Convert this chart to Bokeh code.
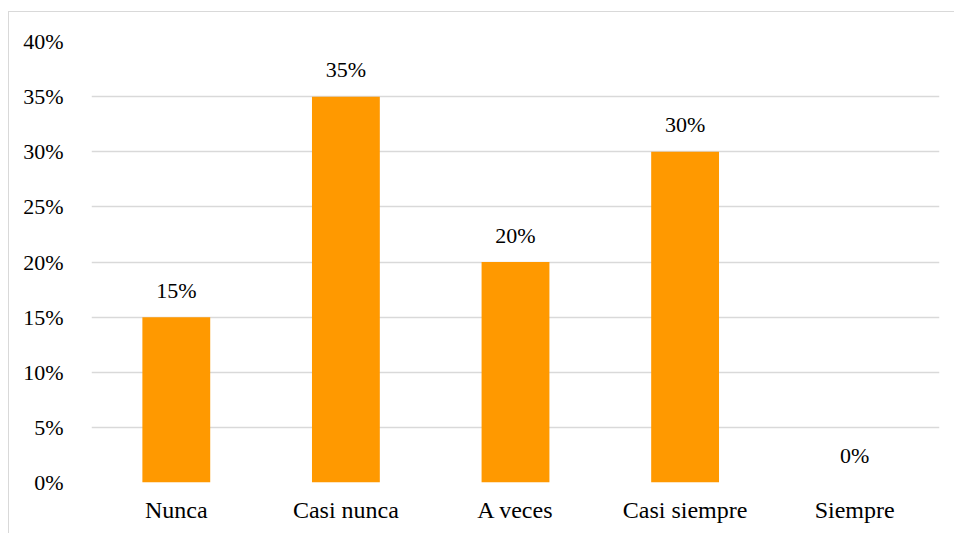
from bokeh.plotting import figure
from bokeh.models import ColumnDataSource, NumeralTickFormatter, FixedTicker, Range1d
from bokeh.core.properties import value
from bokeh.embed import file_html
from bokeh.resources import INLINE

categories = ["Nunca", "Casi nunca", "A veces", "Casi siempre", "Siempre"]
shares = [0.15, 0.35, 0.20, 0.30, 0.00]
share_labels = ["15%", "35%", "20%", "30%", "0%"]
y_ticks = [0.0, 0.05, 0.10, 0.15, 0.20, 0.25, 0.30, 0.35, 0.40]

FONT = "Liberation Serif"
BAR = "#FF9900"
GRID = "#D9D9D9"

source = ColumnDataSource(data=dict(cat=categories, val=shares, lab=share_labels))

p = figure(
    x_range=categories,
    y_range=Range1d(0, 0.40),
    width=946,
    height=522,
    output_backend="svg",
    toolbar_location=None,
    min_border_left=82,
    min_border_right=16,
    min_border_top=29,
    min_border_bottom=52,
)
p.margin = (11, 0, 0, 8)
p.styles = {"border-top": "1px solid #D9D9D9", "border-left": "1px solid #D9D9D9"}

p.vbar(x="cat", top="val", width=0.4, source=source, color=BAR, line_color=None)

p.text(x="cat", y="val", text="lab", source=source,
       text_font=value(FONT), text_font_size="22px", text_color="#000000",
       text_align="center", text_baseline="alphabetic", y_offset=-27)

p.outline_line_color = None
p.background_fill_color = "white"
p.border_fill_color = "white"

p.xgrid.grid_line_color = None
p.ygrid.grid_line_color = GRID
p.ygrid.grid_line_width = 1.3

p.yaxis.ticker = FixedTicker(ticks=y_ticks)
p.yaxis.formatter = NumeralTickFormatter(format="0%")

for ax in (p.xaxis[0], p.yaxis[0]):
    ax.axis_line_color = None
    ax.major_tick_line_color = None
    ax.minor_tick_line_color = None
    ax.major_label_text_font = FONT
    ax.major_label_text_color = "#000000"

p.yaxis.major_label_text_font_size = "22px"
p.xaxis.major_label_text_font_size = "24px"
p.yaxis.major_label_standoff = 22
p.xaxis.major_label_standoff = 8

open("out.html", "w").write(file_html(p, INLINE))
